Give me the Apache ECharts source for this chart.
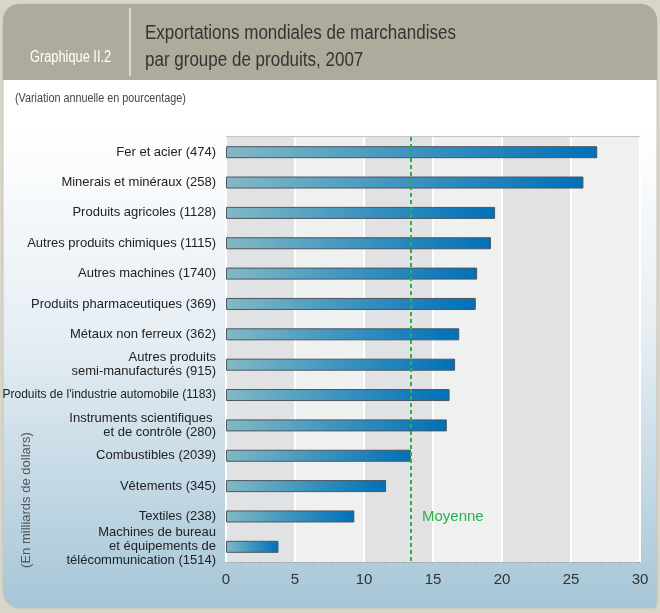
<!DOCTYPE html>
<html>
<head>
<meta charset="utf-8">
<script src="https://cdn.jsdelivr.net/npm/echarts@6/dist/echarts.min.js"></script>
<style>
html,body{margin:0;padding:0;background:#d8d5ca;}
#c{width:660px;height:613px;}
</style>
</head>
<body>
<div id="c"></div>
<script>
const categories = [
  'Fer et acier (474)',
  'Minerais et minéraux (258)',
  'Produits agricoles (1128)',
  'Autres produits chimiques (1115)',
  'Autres machines (1740)',
  'Produits pharmaceutiques (369)',
  'Métaux non ferreux (362)',
  'Autres produits\nsemi-manufacturés (915)',
  "Produits de l'industrie automobile (1183)",
  'Instruments scientifiques \net de contrôle (280)',
  'Combustibles (2039)',
  'Vêtements (345)',
  'Textiles (238)',
  'Machines de bureau\net équipements de\ntélécommunication (1514)'
];
const values = [26.9, 25.9, 19.5, 19.2, 18.2, 18.1, 16.9, 16.6, 16.2, 16.0, 13.4, 11.6, 9.3, 3.8];
const averageValue = 13.4;
const xTicks = [0, 5, 10, 15, 20, 25, 30];

const FONT = "'Liberation Sans', Arial, sans-serif";
const chart = echarts.init(document.getElementById('c'), null, {renderer: 'canvas'});

chart.setOption({
  backgroundColor: '#d8d5ca',
  animation: false,
  graphic: [
    {type: 'rect', z: -10, shape: {x: 3, y: 4, width: 654, height: 604, r: [16, 16, 4, 16]},
     style: {fill: new echarts.graphic.LinearGradient(0, 0, 0, 1, [
       {offset: 0, color: '#ffffff'}, {offset: 0.2, color: '#ffffff'},
       {offset: 0.55, color: '#e6eef4'}, {offset: 1, color: '#a6c6d7'}]), stroke: '#c9c4b4', lineWidth: 1}},
    {type: 'rect', z: -9, shape: {x: 3, y: 4, width: 654, height: 76, r: [16, 16, 0, 0]},
     style: {fill: '#aeab9d'}},
    {type: 'line', z: -8, shape: {x1: 130, y1: 8, x2: 130, y2: 76}, style: {stroke: '#e9e7e0', lineWidth: 1.5}},
    {type: 'text', x: 30, y: 50, scaleX: 0.8, style: {text: 'Graphique II.2', fill: '#ffffff', font: "16px " + FONT}},
    {type: 'text', x: 145, y: 20, scaleX: 0.85, style: {text: 'Exportations mondiales de marchandises\npar groupe de produits, 2007', fill: '#333333', font: "20px " + FONT, lineHeight: 27}},
    {type: 'text', x: 15, y: 93, scaleX: 0.9, style: {text: '(Variation annuelle en pourcentage)', fill: '#444444', font: "12px " + FONT}},
    {type: 'text', x: 26, y: 500, rotation: Math.PI / 2,
     style: {text: '(En milliards de dollars)', fill: '#555555', font: "13px " + FONT, align: 'center', verticalAlign: 'middle'}}
  ],
  grid: {left: 226, right: 20, top: 137, bottom: 51, containLabel: false, outerBoundsMode: 'none',
         show: true, borderColor: '#8a8a8a', borderWidth: 1},
  xAxis: {
    type: 'value', min: 0, max: 30, interval: 5,
    axisLine: {show: false}, axisTick: {show: false},
    axisLabel: {color: '#333', fontSize: 15, fontFamily: FONT, margin: 10,
                formatter: v => xTicks.includes(v) ? String(v) : ''},
    splitLine: {show: true, lineStyle: {color: '#ffffff', width: 2}},
    splitArea: {show: true, areaStyle: {color: ['#e1e2e4', '#eff0f0']}}
  },
  yAxis: {
    type: 'category', data: categories, inverse: true,
    axisLine: {show: false}, axisTick: {show: false},
    axisLabel: {color: '#222', fontSize: 13, fontFamily: FONT, margin: 10, lineHeight: 14, align: 'right',
      formatter: v => v.length > 36 && v.indexOf('\n') < 0 ? '{s|' + v + '}' : v,
      rich: {s: {fontSize: 12, fontFamily: FONT, color: '#222', lineHeight: 14}}},
    splitLine: {show: true, lineStyle: {color: '#b5b5b5', type: [5, 4], width: 1}}
  },
  series: [{
    type: 'bar', data: values, barWidth: 12,
    itemStyle: {
      color: new echarts.graphic.LinearGradient(0, 0, 1, 0, [
        {offset: 0, color: '#82b9c4'}, {offset: 0.5, color: '#3d94bf'}, {offset: 1, color: '#0070b8'}]),
      borderColor: '#4d5560', borderWidth: 1
    },
    markLine: {
      symbol: 'none', silent: true,
      lineStyle: {color: '#2bb24c', type: [4, 3], width: 2},
      label: {show: false},
      data: [{xAxis: averageValue}]
    },
    markPoint: {
      symbol: 'circle', symbolSize: 0,
      label: {show: true, position: 'right', formatter: 'Moyenne', color: '#2bb24c', fontSize: 15, fontFamily: FONT, distance: 0},
      data: [{coord: [14.2, 'Textiles (238)']}]
    }
  }]
});
</script>
</body>
</html>
